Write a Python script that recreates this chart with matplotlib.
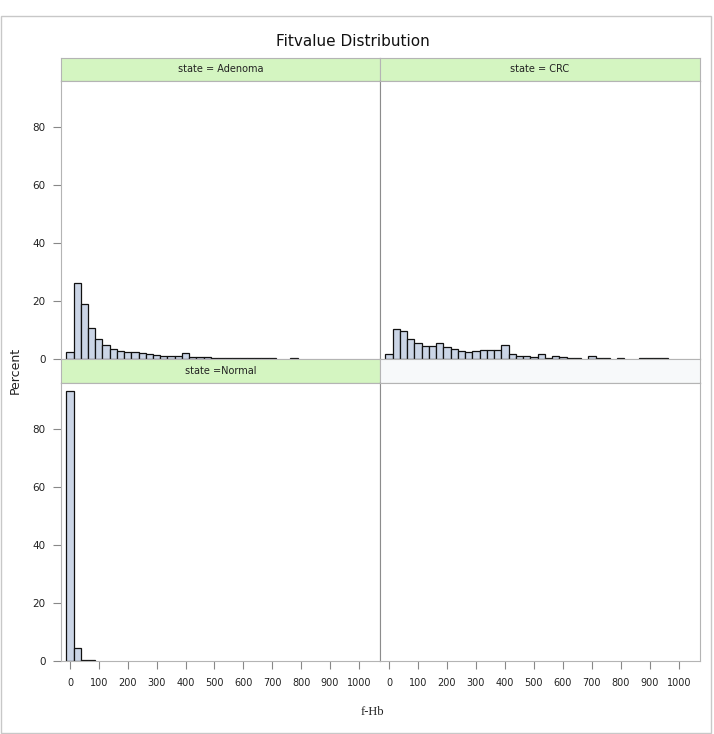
import matplotlib
matplotlib.use("Agg")
import matplotlib.pyplot as plt
from matplotlib.patches import Rectangle

# histogram bins (f-Hb midpoints, width 25)
bin_mid = [0, 25, 50, 75, 100, 125, 150, 175, 200, 225,
           250, 275, 300, 325, 350, 375, 400, 425, 450, 475,
           500, 525, 550, 575, 600, 625, 650, 675, 700, 725,
           750, 775, 800, 825, 850, 875, 900, 925, 950, 975]

adenoma = [2.4, 26.2, 19.0, 10.7, 7.0, 4.7, 3.5, 2.7, 2.3, 2.3,
           2.1, 1.6, 1.5, 1.1, 1.1, 1.1, 2.1, 0.8, 0.8, 0.8,
           0.3, 0.3, 0.3, 0.3, 0.3, 0.3, 0.3, 0.3, 0.3, 0,
           0, 0.4, 0, 0, 0, 0, 0, 0, 0, 0]
crc = [1.6, 10.2, 9.7, 7.0, 5.4, 4.6, 4.6, 5.4, 4.2, 3.5,
       2.7, 2.3, 2.7, 3.1, 3.1, 3.1, 4.7, 1.6, 1.1, 1.1,
       0.8, 1.6, 0.5, 1.1, 0.8, 0.5, 0.5, 0, 0.9, 0.5,
       0.5, 0, 0.5, 0, 0, 0.5, 0.5, 0.5, 0.5, 0]
normal = [93.4, 4.6, 0.5, 0.3, 0, 0, 0, 0, 0, 0,
          0, 0, 0, 0, 0, 0, 0, 0, 0, 0,
          0, 0, 0, 0, 0, 0, 0, 0, 0, 0,
          0, 0, 0, 0, 0, 0, 0, 0, 0, 0]

xticks = [0, 100, 200, 300, 400, 500, 600, 700, 800, 900, 1000]
yticks = [0, 20, 40, 60, 80]

W, H = 714, 734
fig = plt.figure(figsize=(W / 100, H / 100), dpi=100)

def box(x0, y0, x1, y1):
    return fig.add_axes([x0 / W, 1 - y1 / H, (x1 - x0) / W, (y1 - y0) / H])

# outer frame
fig.patches.append(Rectangle((0.5 / W, 1 - 733 / H), 710.5 / W, 717 / H,
                             transform=fig.transFigure, fill=False,
                             edgecolor='#c8c8c8', linewidth=1))

fig.text(353 / W, 1 - 41 / H, 'Fitvalue Distribution', ha='center', va='center',
         fontsize=11, color='#111111')

frame = '#b4b4b4'
dark = '#8c8c8c'
green = '#d4f5c1'

def header(x0, y0, x1, y1, label, color):
    hx = box(x0, y0, x1, y1)
    hx.set_facecolor(color)
    hx.set_xticks([])
    hx.set_yticks([])
    for s in hx.spines.values():
        s.set_color(frame)
    hx.spines['bottom'].set_color(dark)
    if label:
        hx.text(0.5, 0.5, label, transform=hx.transAxes, ha='center', va='center',
                fontsize=7, color='#222222')

def panel(x0, y0, x1, y1, vals, left, bottom):
    ax = box(x0, y0, x1, y1)
    if vals is not None:
        mids = [m for m, v in zip(bin_mid, vals) if v > 0]
        hs = [v for v in vals if v > 0]
        ax.bar(mids, hs, width=25, color='#cbd5e6', edgecolor='#111111', linewidth=0.9)
    ax.set_xlim(-31, 1073)
    ax.set_ylim(0, 96)
    for s in ax.spines.values():
        s.set_color(frame)
    if left:
        ax.spines['right'].set_color(dark)
    else:
        ax.spines['left'].set_color(dark)
    ax.tick_params(color='#888888', labelcolor='#222222', length=6, width=0.8,
                   labelsize=7.5, pad=5)
    if left:
        ax.set_yticks(yticks)
    else:
        ax.set_yticks([])
    if bottom:
        ax.set_xticks(xticks)
        ax.tick_params(axis='x', labelsize=7, pad=6)
    else:
        ax.set_xticks([])
    return ax

header(61, 58, 380, 81, 'state = Adenoma', green)
header(380, 58, 700, 81, 'state = CRC', green)
panel(61, 81, 380, 359, adenoma, True, False)
panel(380, 81, 700, 359, crc, False, False)
header(61, 359, 380, 383, 'state =Normal', green)
header(380, 359, 700, 383, '', '#f7f9fa')
panel(61, 383, 380, 661, normal, True, True)
panel(380, 383, 700, 661, None, False, True)

fig.text(15 / W, 1 - 370 / H, 'Percent', rotation=90, ha='center', va='center',
         fontsize=9, color='#222222')
fig.text(372 / W, 1 - 712 / H, 'f-Hb', ha='center', va='center',
         fontsize=9, family='Liberation Serif', color='#222222')

fig.savefig('out.png', dpi=100)
